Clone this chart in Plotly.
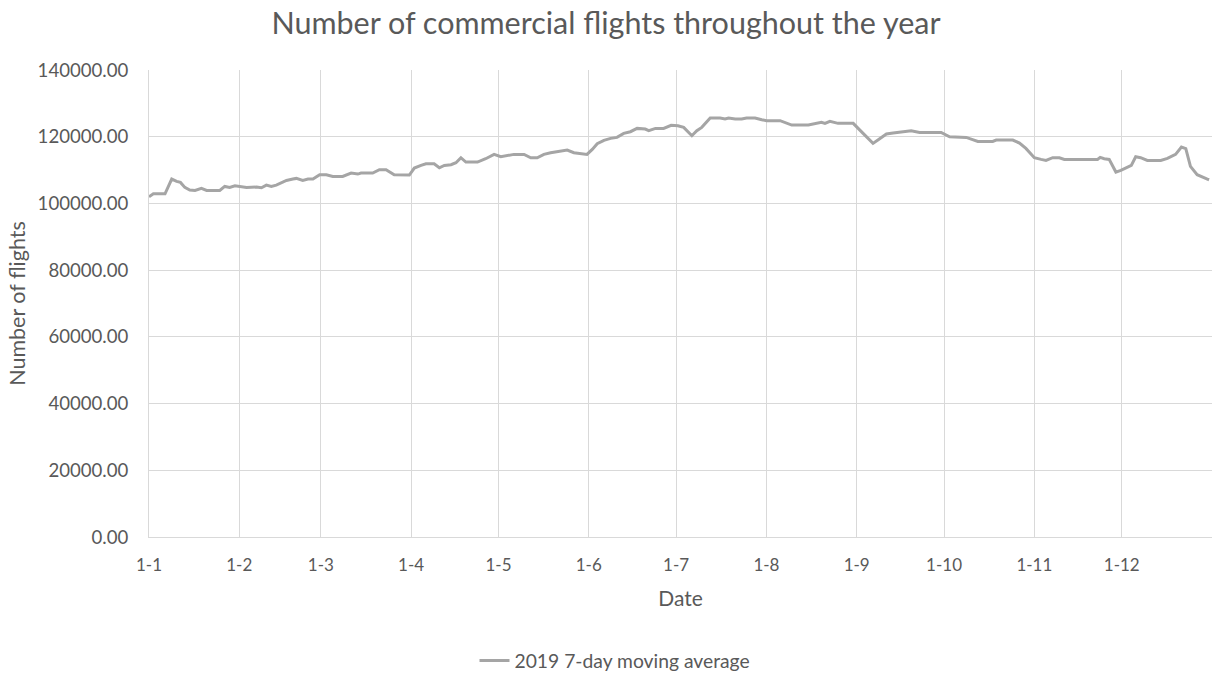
import pandas as pd
import plotly.graph_objects as go

# Day offsets from 2019-01-01 and 7-day moving average values
day_offsets = [0, 1.5, 5.5, 7.8, 9.5, 10.8, 12.3, 14, 15.8, 18, 19.8, 24.3, 26, 27.7, 29.5,
               31.2, 33.5, 36.9, 38.6, 40.3, 42, 43.7, 47.2, 49.4, 50.6, 52.8, 54.6, 56.3,
               58.6, 60.9, 63.1, 66.5, 69.4, 71.7, 72.8, 76.8, 79.1, 81.4, 84.2, 89.4, 91.1,
               93.4, 95.1, 97.9, 99.7, 101.4, 103.7, 105.4, 107.1, 108.8, 112.8, 115.6, 118.5,
               120.8, 123, 125.3, 128.8, 131.1, 133.3, 135.6, 137.9, 139.6, 141.3, 143.6,
               145.9, 148.2, 150.4, 152.2, 153.9, 156.2, 158.5, 160.7, 163, 165.3, 167.6,
               170.4, 171.6, 173.9, 176.7, 179.3, 181.6, 183.6, 186.4, 188.1, 189.8, 192.7,
               196.1, 197.8, 199, 201.3, 203.5, 205.2, 208.1, 210.4, 212.1, 216.7, 218.4,
               220.7, 226.4, 228.7, 230.9, 232.1, 233.8, 236.6, 241.8, 245.2, 248.6, 250.9,
               253.2, 255.5, 258.3, 261.7, 264.6, 272, 274.9, 280.6, 282.3, 284.6, 289.7,
               290.9, 296.6, 298.9, 301.1, 304, 306.3, 308, 310.3, 312.6, 314.3, 325.7,
               326.6, 328, 329.7, 332, 333.7, 336, 337.3, 338.8, 340.5, 342.8, 347.4, 349.7,
               352.5, 354.5, 356, 357.6, 359.9, 363.4, 364]
flights_2019 = [102000, 102900, 102900, 107300, 106600, 106300, 104800, 104000, 103900, 104500,
                103900, 103900, 105100, 104800, 105300, 105100, 104800, 104900, 104700, 105500,
                105100, 105500, 106900, 107300, 107500, 106900, 107300, 107300, 108600, 108600,
                108100, 108100, 109100, 108800, 109100, 109100, 110100, 110100, 108600, 108500,
                110600, 111400, 111900, 111900, 110700, 111400, 111600, 112200, 113700, 112400,
                112400, 113400, 114700, 114000, 114400, 114700, 114700, 113700, 113700, 114700,
                115200, 115400, 115700, 116000, 115200, 115000, 114700, 116200, 117900, 118900,
                119500, 119800, 121000, 121500, 122500, 122300, 121800, 122500, 122500, 123400,
                123300, 122800, 120300, 121800, 122800, 125600, 125600, 125300, 125600, 125300,
                125300, 125600, 125600, 125100, 124800, 124800, 124300, 123500, 123500, 124000,
                124300, 124000, 124600, 124000, 124000, 121000, 118000, 119400, 120800, 121100,
                121500, 121800, 121300, 121300, 120000, 119800, 119300, 118600, 118600, 119000,
                119000, 118100, 116500, 113700, 113200, 112900, 113700, 113700, 113200, 113200,
                113800, 113400, 113200, 109400, 109900, 110900, 111400, 114000, 113700, 112900,
                112900, 113500, 114700, 116900, 116400, 111100, 108600, 107300, 107100]

tick_dates = ["2019-01-01", "2019-02-01", "2019-03-01", "2019-04-01", "2019-05-01", "2019-06-01",
              "2019-07-01", "2019-08-01", "2019-09-01", "2019-10-01", "2019-11-01", "2019-12-01"]
tick_labels = ["1-1", "1-2", "1-3", "1-4", "1-5", "1-6", "1-7", "1-8", "1-9", "1-10", "1-11", "1-12"]
y_ticks = [0, 20000, 40000, 60000, 80000, 100000, 120000, 140000]

base = pd.Timestamp("2019-01-01")
dates = [base + pd.Timedelta(days=d) for d in day_offsets]

FONT = "Lato"
TXT = "#595959"
GRID = "#D9D9D9"

fig = go.Figure()
fig.add_trace(go.Scatter(
    x=dates, y=flights_2019, mode="lines", name="2019 7-day moving average",
    line=dict(color="#A5A5A5", width=3),
))

fig.update_layout(
    width=1212, height=675,
    paper_bgcolor="white", plot_bgcolor="white",
    margin=dict(l=149, r=0, t=70, b=138),
    font=dict(family=FONT, color=TXT, size=17),
    title=dict(text="Number of commercial flights throughout the year",
               x=0.5, xanchor="center", xref="container", y=1 - 23 / 675, yanchor="middle",
               font=dict(size=30.5, color=TXT, family=FONT)),
    showlegend=True,
    legend=dict(orientation="h", x=0.5 + 9 / 1212, xanchor="center", xref="container",
                y=1 - 661 / 675, yref="container", yanchor="middle",
                font=dict(size=19.3, color=TXT, family=FONT)),
    xaxis=dict(
        type="date", range=["2019-01-01", "2020-01-01"],
        tickvals=tick_dates, ticktext=tick_labels,
        showgrid=True, gridcolor=GRID, gridwidth=1,
        showline=True, linecolor=GRID, linewidth=1,
        ticks="outside", ticklen=13, tickcolor="rgba(0,0,0,0)",
        tickfont=dict(size=17, color=TXT),
        title=dict(text="Date", font=dict(size=21, color=TXT), standoff=16),
        zeroline=False,
    ),
    yaxis=dict(
        range=[0, 140000], tickvals=y_ticks, tickformat=".2f",
        showgrid=True, gridcolor=GRID, gridwidth=1,
        showline=True, linecolor=GRID, linewidth=1,
        ticks="outside", ticklen=16, tickcolor="rgba(0,0,0,0)",
        tickfont=dict(size=18.6, color=TXT),
        title=dict(text="Number of flights", font=dict(size=21.5, color=TXT), standoff=6),
        zeroline=False,
    ),
)

fig.write_html("out.html")
